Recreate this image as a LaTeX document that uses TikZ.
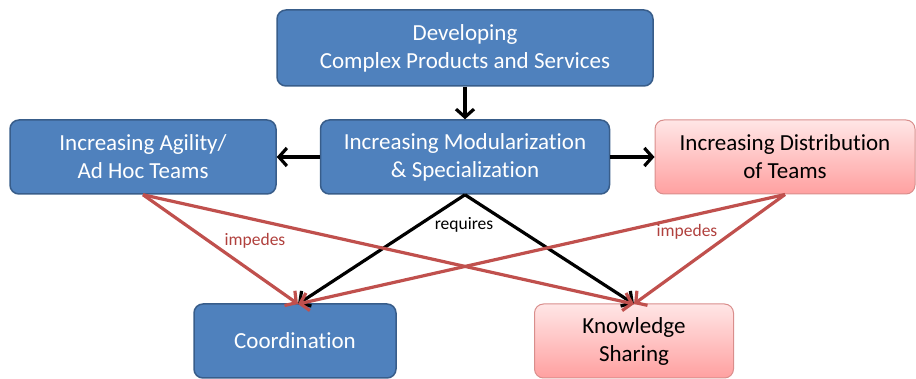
\documentclass[tikz,border=0pt]{standalone}
\usepackage{fontspec}
\setmainfont{Carlito}[Ligatures={NoCommon,TeX}]
\usetikzlibrary{arrows.meta}
\definecolor{bluefill}{HTML}{4F81BD}
\definecolor{blueline}{HTML}{385D8A}
\definecolor{pinktop}{HTML}{FFE6E6}
\definecolor{pinkbot}{HTML}{FFA0A0}
\definecolor{pinkline}{HTML}{D98E8C}
\definecolor{redarrow}{HTML}{C0504D}
\definecolor{redtext}{HTML}{B0403D}
\tikzset{
  box/.style={rounded corners=9pt, line width=1.5pt, align=center, inner sep=0pt,
    font=\fontsize{23}{28}\selectfont},
  bluebox/.style={box, fill=bluefill, draw=blueline, text=white},
  pinkbox/.style={box, top color=pinktop, bottom color=pinkbot, draw=pinkline, line width=1pt, text=black},
  blk/.style={line width=3.2pt, -{Straight Barb[length=8pt,width=18pt,line width=3.2pt]}},
  redarr/.style={line width=3.2pt, draw=redarrow, -{Straight Barb[length=8pt,width=18pt,line width=3.2pt]}},
  lbl/.style={font=\fontsize{17.5}{20}\selectfont, inner sep=1pt}
}
\begin{document}
\begin{tikzpicture}[x=1pt,y=-1pt]
\useasboundingbox (0,0) rectangle (916,379);
\node[bluebox, minimum width=376pt, minimum height=76pt] (top) at (465,48) {Developing\\Complex Products and Services};
\node[bluebox, minimum width=266pt, minimum height=74pt] (agil) at (143,157) {Increasing Agility/\\Ad Hoc Teams};
\node[bluebox, minimum width=289pt, minimum height=74pt] (mod) at (465,157) {Increasing Modularization\\\& Specialization};
\node[pinkbox, minimum width=260pt, minimum height=74pt] (dist) at (785,157) {Increasing Distribution\\of Teams};
\node[bluebox, minimum width=202pt, minimum height=74pt] (coord) at (295,341) {Coordination};
\node[pinkbox, minimum width=199pt, minimum height=74pt] (know) at (634,341) {Knowledge\\Sharing};
\coordinate (ct) at (298,304);
\coordinate (kt) at (634,304);
\draw[blk] (top.south) -- (mod.north);
\draw[blk] (mod.west) -- (agil.east);
\draw[blk] (mod.east) -- (dist.west);
\draw[blk] (mod.south) -- (ct);
\draw[blk] (mod.south) -- (kt);
\draw[redarr] (agil.south) -- (ct);
\draw[redarr] (agil.south) -- (kt);
\draw[redarr] (dist.south) -- (ct);
\draw[redarr] (dist.south) -- (kt);
\node[lbl, text=black] (req) at (464,225) {requires};
\node[lbl, text=redtext] (imp1) at (255,241) {impedes};
\node[lbl, text=redtext] (imp2) at (687,232) {impedes};
\end{tikzpicture}
\end{document}
